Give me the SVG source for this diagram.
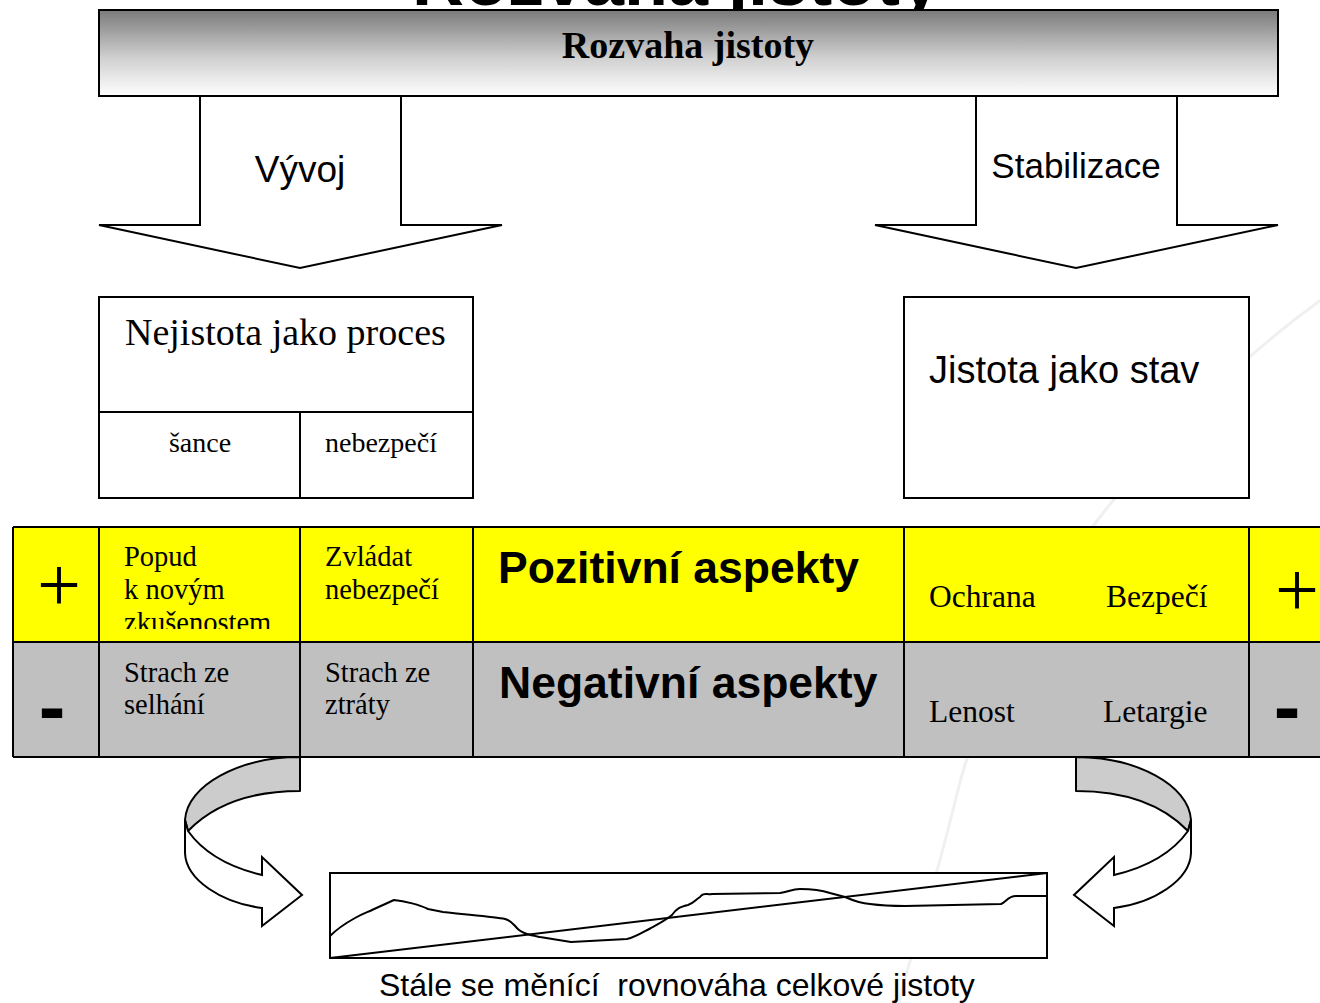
<svg xmlns="http://www.w3.org/2000/svg" xmlns:xlink="http://www.w3.org/1999/xlink" width="1320" height="1003" viewBox="0 0 1320 1003">
  <defs>
    <linearGradient id="headFill" x1="0" y1="0" x2="0" y2="1">
      <stop offset="0" stop-color="#7a7a7a"/>
      <stop offset="0.55" stop-color="#cfcfcf"/>
      <stop offset="1" stop-color="#ffffff"/>
    </linearGradient>
    <clipPath id="clipPopud">
      <rect x="99" y="527" width="201" height="102"/>
    </clipPath>
    <!-- curled 3D ribbon arrow, left-hand version; the right one is its mirror -->
    <g id="curl">
      <path class="back" d="M300,757 C240,757 187,785 185,820 L188,831 C215,803 255,791 300,791 Z"/>
      <path class="front" d="M185,820 L185,853 C186,880 222,903 262,908 L262,926 L302,895 L262,857 L262,875 C228,867 203,852 188,831 Z"/>
    </g>
  </defs>
  <style>
    .ln { fill: none; stroke: #000; stroke-width: 2; }
    .box { fill: #fff; stroke: #000; stroke-width: 2; }
    .back { fill: #cccccc; stroke: #000; stroke-width: 2; stroke-linejoin: round; }
    .front { fill: #fff; stroke: #000; stroke-width: 2; stroke-linejoin: miter; }
    .yellow { fill: #ffff00; }
    .grey { fill: #c0c0c0; }
    .serif { font-family: "Liberation Serif", "Times New Roman", serif; fill: #000; }
    .sans { font-family: "Liberation Sans", Arial, sans-serif; fill: #000; }
    .cell { font-size: 28.5px; }
    .side { font-size: 31.5px; }
    .aspect { font-size: 44.5px; font-weight: bold; }
  </style>

  <rect width="1320" height="1003" fill="#fff"/>

  <!-- faint background sweep -->
  <path d="M1338,288 C1160,410 1000,620 958,790 S906,960 898,1010" fill="none" stroke="#f0f0f0" stroke-width="3"/>

  <!-- slide title, mostly hidden behind the header bar -->
  <text class="sans" x="412" y="5" font-size="72" font-weight="bold">Rozvaha jistoty</text>

  <!-- header bar -->
  <g id="header">
    <rect x="99" y="10" width="1179" height="86" fill="url(#headFill)" stroke="#000" stroke-width="2"/>
    <text class="serif" x="688" y="58" font-size="38" font-weight="bold" text-anchor="middle">Rozvaha jistoty</text>
  </g>

  <!-- arrows -->
  <g id="connectors">
    <polygon class="box" points="200,96 401,96 401,225 502,225 300,268 99,225 200,225"/>
    <text class="sans" x="300" y="182" font-size="37" text-anchor="middle">Vývoj</text>
    <polygon class="box" points="976,96 1177,96 1177,225 1278,225 1076,268 875,225 976,225"/>
    <text class="sans" x="1076" y="178" font-size="35" text-anchor="middle">Stabilizace</text>
    <use xlink:href="#curl" href="#curl"/>
    <use xlink:href="#curl" href="#curl" transform="translate(1376,0) scale(-1,1)"/>
  </g>

  <!-- uncertainty as a process -->
  <g id="nejistota">
    <rect class="box" x="99" y="297" width="374" height="201"/>
    <line class="ln" x1="99" y1="412" x2="473" y2="412"/>
    <line class="ln" x1="300" y1="412" x2="300" y2="498"/>
    <text class="serif" x="125" y="345" font-size="38">Nejistota jako proces</text>
    <text class="serif" x="200" y="452" font-size="28" text-anchor="middle">šance</text>
    <text class="serif" x="325" y="452" font-size="28">nebezpečí</text>
  </g>

  <!-- certainty as a state -->
  <g id="jistota">
    <rect class="box" x="904" y="297" width="345" height="201"/>
    <text class="sans" x="929" y="383" font-size="38">Jistota jako stav</text>
  </g>

  <!-- aspects table -->
  <g id="aspects">
    <rect class="yellow" x="13" y="527" width="1320" height="115"/>
    <rect class="grey" x="13" y="642" width="1320" height="115"/>
    <path class="ln" d="M13,527 H1322 M13,642 H1322 M13,757 H1322 M13,527 V757 M99,527 V757 M300,527 V757 M473,527 V757 M904,527 V757 M1249,527 V757"/>

    <text class="serif" x="59" y="611" font-size="78" text-anchor="middle">+</text>
    <text class="sans" x="52" y="734" font-size="80" font-weight="bold" text-anchor="middle">-</text>
    <text class="serif" x="1297" y="616" font-size="78" text-anchor="middle">+</text>
    <text class="sans" x="1287" y="734" font-size="80" font-weight="bold" text-anchor="middle">-</text>

    <g clip-path="url(#clipPopud)">
      <text class="serif cell" x="124" y="566">Popud</text>
      <text class="serif cell" x="124" y="599">k novým</text>
      <text class="serif cell" x="124" y="632">zkušenostem</text>
    </g>
    <text class="serif cell" x="325" y="566">Zvládat</text>
    <text class="serif cell" x="325" y="599">nebezpečí</text>
    <text class="serif cell" x="124" y="682">Strach ze</text>
    <text class="serif cell" x="124" y="714">selhání</text>
    <text class="serif cell" x="325" y="682">Strach ze</text>
    <text class="serif cell" x="325" y="714">ztráty</text>

    <text class="sans aspect" x="498" y="583">Pozitivní aspekty</text>
    <text class="sans aspect" x="499" y="698">Negativní aspekty</text>

    <text class="serif side" x="929" y="607">Ochrana</text>
    <text class="serif side" x="1106" y="607">Bezpečí</text>
    <text class="serif side" x="929" y="722">Lenost</text>
    <text class="serif side" x="1103" y="722">Letargie</text>
  </g>

  <!-- balance chart -->
  <g id="balance">
    <rect class="box" x="330" y="873" width="717" height="85"/>
    <line class="ln" x1="330" y1="958" x2="1047" y2="873"/>
    <path class="ln" stroke-linejoin="round" d="M330,936 C338,928 346,923 355,918 C362,914 368,912 372,910 L394,900 C405,901 420,905 428,909 L443,912 C470,915 495,917 505,919 C513,921 514,926 519,930 C524,934 530,935 540,937 L571,942 L627,939 C636,937 643,932 651,928 C660,923 666,920 672,915 C677,908 680,907 688,905 C694,903 695,900 700,897 C704,892 706,895 712,894 L780,893 C788,892 792,889 800,889 C812,889 824,891 830,893 L845,897 C852,900 858,903 870,904 C885,906 895,906 905,906 L1001,904 C1006,902 1008,896 1016,896 L1047,896"/>
    <text class="sans" x="379" y="996" font-size="32" style="white-space:pre" xml:space="preserve">Stále se měnící  rovnováha celkové jistoty</text>
  </g>
</svg>
